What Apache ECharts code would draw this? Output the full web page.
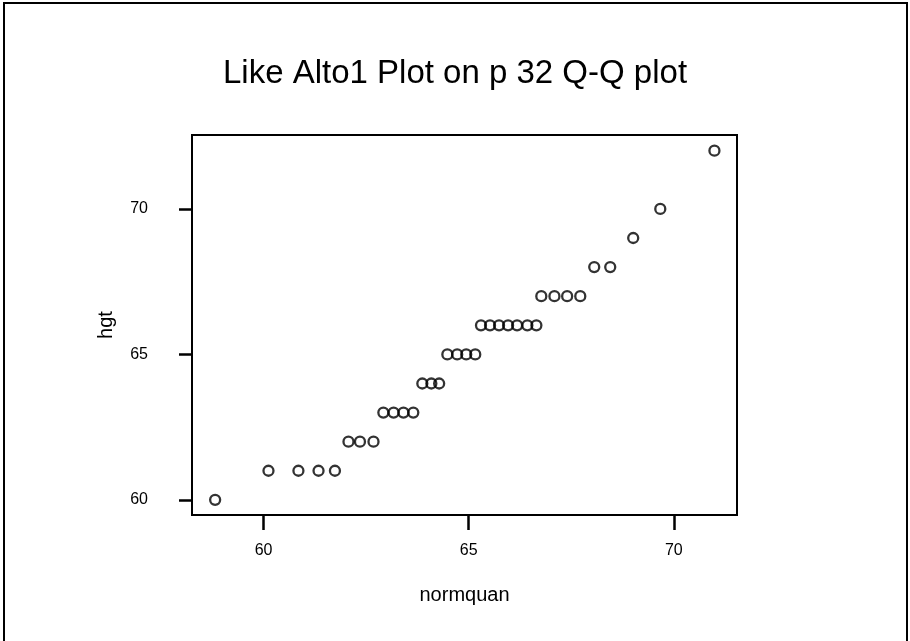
<!DOCTYPE html>
<html>
<head>
<meta charset="utf-8">
<title>Q-Q plot</title>
<script src="https://cdn.jsdelivr.net/npm/echarts@6/dist/echarts.min.js"></script>
<style>
  html, body { margin: 0; padding: 0; background: #fff; }
  #chart { width: 910px; height: 641px; }
</style>
</head>
<body>
<div id="chart"></div>
<script>
// normal quantiles (x) against sorted heights (y)
var normquan = [
  58.82,
  60.12, 60.85, 61.34, 61.74,
  62.07, 62.35, 62.68,
  62.92, 63.17, 63.41, 63.65,
  63.87, 64.09, 64.28,
  64.48, 64.72, 64.94, 65.16,
  65.30, 65.52, 65.74, 65.96, 66.18, 66.43, 66.65,
  66.77, 67.09, 67.40, 67.72,
  68.06, 68.45,
  69.01,
  69.67,
  70.99
];
var hgt = [
  60,
  61, 61, 61, 61,
  62, 62, 62,
  63, 63, 63, 63,
  64, 64, 64,
  65, 65, 65, 65,
  66, 66, 66, 66, 66, 66, 66,
  67, 67, 67, 67,
  68, 68,
  69,
  70,
  72
];
var xTicks = [60, 65, 70];
var yTicks = [60, 65, 70];

var points = [];
for (var i = 0; i < hgt.length; i++) {
  points.push([normquan[i], hgt[i]]);
}

var font = 'Liberation Sans, Arial, Helvetica, sans-serif';

var chart = echarts.init(document.getElementById('chart'));
var option = {
  backgroundColor: '#fff',
  animation: false,
  title: {
    text: 'Like Alto1 Plot on p 32 Q-Q plot',
    left: 'center',
    top: 52,
    textStyle: { fontFamily: font, fontSize: 33, fontWeight: 'normal', color: '#000' }
  },
  graphic: [{
    type: 'rect',
    shape: { x: 4, y: 3, width: 903, height: 700 },
    style: { fill: 'none', stroke: '#000', lineWidth: 2 }
  }],
  grid: {
    left: 192, top: 135, right: 173, bottom: 126,
    show: true,
    borderColor: '#000',
    borderWidth: 2,
    backgroundColor: 'transparent'
  },
  xAxis: {
    type: 'value',
    min: 58.256,
    max: 71.54,
    name: 'normquan',
    nameLocation: 'middle',
    nameGap: 70,
    nameTextStyle: { fontFamily: font, fontSize: 20, color: '#000' },
    axisLine: { show: true, lineStyle: { color: '#000', width: 2 } },
    axisTick: { show: true, length: 15, customValues: xTicks, lineStyle: { color: '#000', width: 2.5 } },
    axisLabel: { customValues: xTicks, margin: 28, fontFamily: font, fontSize: 16, color: '#000' },
    splitLine: { show: false }
  },
  yAxis: {
    type: 'value',
    min: 59.48,
    max: 72.54,
    name: 'hgt',
    nameLocation: 'middle',
    nameGap: 76,
    nameRotate: 90,
    nameTextStyle: { fontFamily: font, fontSize: 20, color: '#000' },
    axisLine: { show: true, lineStyle: { color: '#000', width: 2 } },
    axisTick: { show: true, length: 13, customValues: yTicks, lineStyle: { color: '#000', width: 2.5 } },
    axisLabel: { customValues: yTicks, margin: 44, fontFamily: font, fontSize: 16, color: '#000' },
    splitLine: { show: false }
  },
  series: [{
    type: 'scatter',
    data: points,
    symbol: 'circle',
    symbolSize: 10,
    itemStyle: { color: 'rgba(0,0,0,0)', borderColor: '#000', borderWidth: 2.3 }
  }]
};
chart.setOption(option);
</script>
</body>
</html>
